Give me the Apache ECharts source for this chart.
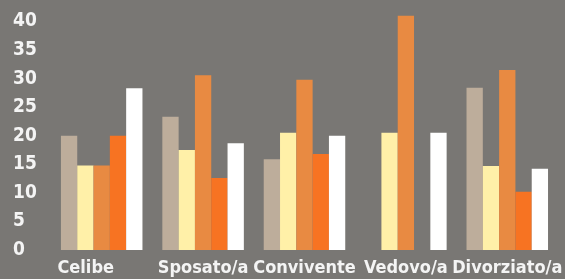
<!DOCTYPE html>
<html>
<head>
<meta charset="utf-8">
<script src="https://cdn.jsdelivr.net/npm/echarts@6/dist/echarts.min.js"></script>
<style>
  html, body { margin: 0; padding: 0; background: #797774; }
  #chart { width: 565px; height: 279px; }
</style>
</head>
<body>
<div id="chart"></div>
<script>
(function(){
	var categories = ['Celibe', 'Sposato/a', 'Convivente', 'Vedovo/a', 'Divorziato/a'];
	// five series per category
	var serie1 = [20, 23.3, 15.9, 0, 28.4];
	var serie2 = [14.8, 17.5, 20.5, 20.5, 14.7];
	var serie3 = [14.8, 30.6, 29.8, 41, 31.5];
	var serie4 = [20, 12.6, 16.8, 0, 10.2];
	var serie5 = [28.3, 18.7, 20, 20.5, 14.2];
	var colors = ['#bdad9b', '#fff0a8', '#e88a42', '#f77322', '#ffffff'];

	var chart = echarts.init(document.getElementById('chart'));
	var font = '"DejaVu Sans Condensed", "DejaVu Sans", sans-serif';

	function makeSerie(data, i){
		return {
			type: 'bar',
			data: data,
			barGap: 0,
			barCategoryGap: '19.6%',
			itemStyle: { color: colors[i] },
			silent: true
		};
	}

	var option = {
		backgroundColor: '#797774',
		animation: false,
		grid: { left: 51, right: 3, top: 10, bottom: 29 },
		xAxis: {
			type: 'category',
			data: categories,
			axisLine: { show: false },
			axisTick: { show: false },
			axisLabel: {
				color: '#f4f4f4',
				fontFamily: font,
				fontWeight: 'bold',
				fontSize: 18,
				margin: 9,
				interval: 0,
				formatter: function(v){
					return v === 'Celibe' ? '{p|' + v + '}' : v;
				},
				rich: {
					p: {
						color: '#f4f4f4',
						fontFamily: font,
						fontWeight: 'bold',
						fontSize: 18,
						padding: [0, 32, 0, 0]
					}
				}
			}
		},
		yAxis: {
			type: 'value',
			min: 0,
			max: 42,
			interval: 5,
			splitLine: { show: false },
			axisLine: { show: false },
			axisTick: { show: false },
			axisLabel: {
				showMaxLabel: false,
				color: '#f4f4f4',
				fontFamily: font,
				fontWeight: 'bold',
				fontSize: 19,
				align: 'left',
				margin: 38
			}
		},
		series: [serie1, serie2, serie3, serie4, serie5].map(makeSerie)
	};
	chart.setOption(option);
})();
</script>
</body>
</html>
